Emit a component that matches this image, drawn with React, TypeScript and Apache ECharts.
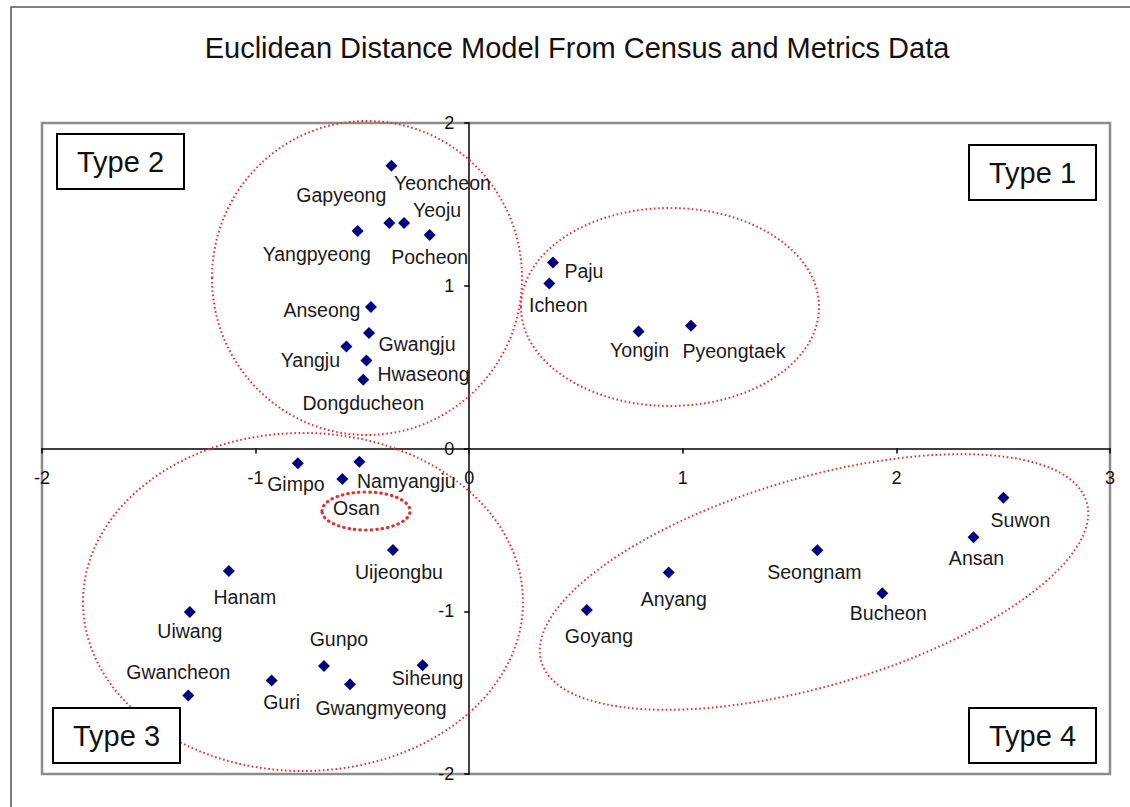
import React, { useEffect, useRef } from "react";
import * as echarts from "echarts";

// ---- data ----
const cities = [
  "Yeoncheon", "Gapyeong", "Yeoju", "Yangpyeong", "Pocheon", "Anseong", "Gwangju", "Yangju",
  "Hwaseong", "Dongducheon", "Paju", "Icheon", "Yongin", "Pyeongtaek", "Gimpo", "Osan",
  "Namyangju", "Uijeongbu", "Hanam", "Uiwang", "Gwancheon", "Guri", "Gunpo", "Gwangmyeong",
  "Siheung", "Goyang", "Anyang", "Seongnam", "Bucheon", "Ansan", "Suwon",
];
const dimension1 = [
  -0.364, -0.374, -0.305, -0.522, -0.185, -0.46, -0.469, -0.575,
  -0.481, -0.496, 0.392, 0.375, 0.793, 1.038, -0.802, -0.514,
  -0.594, -0.357, -1.125, -1.308, -1.315, -0.925, -0.68, -0.558,
  -0.218, 0.551, 0.934, 1.63, 1.934, 2.361, 2.501,
];
const dimension2 = [
  1.737, 1.386, 1.386, 1.337, 1.312, 0.869, 0.709, 0.626,
  0.54, 0.423, 1.143, 1.014, 0.719, 0.754, -0.091, -0.081,
  -0.188, -0.623, -0.752, -1.004, -1.517, -1.425, -1.337, -1.449,
  -1.332, -0.992, -0.762, -0.625, -0.889, -0.546, -0.303,
];
const xRange = [-2, 3];
const yRange = [-2, 2];
const typeNames = ["Type 1", "Type 2", "Type 3", "Type 4"];
const chartTitle = "Euclidean Distance Model From Census and Metrics Data";

// ---- layout (label placement relative to each marker, in px) ----
const labelOffsets: Record<string, [number, number]> = {
  Yeoncheon: [51, 17], Gapyeong: [-48, -28], Yeoju: [33, -13], Yangpyeong: [-41, 23],
  Pocheon: [0, 22], Anseong: [-49, 3], Gwangju: [48, 11], Yangju: [-36, 13],
  Hwaseong: [57, 13], Dongducheon: [0, 23], Paju: [31, 9], Icheon: [9, 22],
  Yongin: [1, 19], Pyeongtaek: [43, 25], Gimpo: [-2, 21], Osan: [-3, 46],
  Namyangju: [64, 2], Uijeongbu: [6, 22], Hanam: [16, 26], Uiwang: [0, 19],
  Gwancheon: [-10, -23], Guri: [10, 22], Gunpo: [15, -27], Gwangmyeong: [31, 24],
  Siheung: [5, 13], Goyang: [12, 26], Anyang: [5, 26], Seongnam: [-3, 22],
  Bucheon: [6, 20], Ansan: [3, 21], Suwon: [17, 22],
};

const FONT = "'Liberation Sans', Arial, sans-serif";
const RED = "#e03434";
const GRID = { left: 42, right: 20, top: 123, bottom: 33 };

export default function App() {
  const ref = useRef<HTMLDivElement>(null);

  useEffect(() => {
    if (!ref.current) return;
    const chart = echarts.init(ref.current, undefined, { renderer: "svg" });
    const W = 1130;
    const H = 807;
    const plotW = W - GRID.left - GRID.right;
    const plotH = H - GRID.top - GRID.bottom;
    // distance from grid bottom / left edge to the zero lines, so axes cross at the origin
    const xAxisShift = -plotH * ((0 - yRange[0]) / (yRange[1] - yRange[0]));
    const yAxisShift = -plotW * ((0 - xRange[0]) / (xRange[1] - xRange[0]));

    const data = cities.map((name, i) => ({
      name,
      value: [dimension1[i], dimension2[i]],
    }));

    const ellipse = (cx: number, cy: number, rx: number, ry: number, rot: number, lw: number, dash: number[], cap: string) => ({
      type: "ellipse",
      x: cx,
      y: cy,
      rotation: rot,
      silent: true,
      z: 1,
      shape: { cx: 0, cy: 0, rx, ry },
      style: { fill: "none", stroke: RED, lineWidth: lw, lineDash: dash, lineCap: cap },
    });

    const boxPos: Record<string, [number, number]> = {
      "Type 1": [969, 145],
      "Type 2": [57, 134],
      "Type 3": [53, 708],
      "Type 4": [969, 708],
    };
    const typeBoxes = typeNames.map((t) => ({
      type: "group",
      x: boxPos[t][0],
      y: boxPos[t][1],
      z: 10,
      children: [
        {
          type: "rect",
          shape: { x: 0, y: 0, width: 127, height: 55 },
          style: { fill: "#fff", stroke: "#000", lineWidth: 2 },
          z: 10,
        },
        {
          type: "text",
          x: 63.5,
          y: 28,
          z: 11,
          style: {
            text: t,
            fontSize: 29,
            fontFamily: FONT,
            fill: "#111",
            textAlign: "center",
            textVerticalAlign: "middle",
          },
        },
      ],
    }));

    chart.setOption({
      animation: false,
      backgroundColor: "#fff",
      grid: {
        ...GRID,
        show: true,
        borderColor: "#8c8c8c",
        borderWidth: 2.5,
        backgroundColor: "#fff",
      },
      xAxis: {
        type: "value",
        min: xRange[0],
        max: xRange[1],
        interval: 1,
        position: "bottom",
        offset: xAxisShift,
        axisLine: { onZero: false, lineStyle: { color: "#000", width: 1.5 } },
        axisTick: { show: true, length: 5, lineStyle: { color: "#000", width: 1.5 } },
        axisLabel: { margin: 20, fontSize: 18, color: "#111", fontFamily: FONT },
        splitLine: { show: false },
      },
      yAxis: {
        type: "value",
        min: yRange[0],
        max: yRange[1],
        interval: 1,
        position: "left",
        offset: yAxisShift,
        axisLine: { onZero: false, lineStyle: { color: "#000", width: 1.5 } },
        axisTick: { show: true, length: 5, lineStyle: { color: "#000", width: 1.5 } },
        axisLabel: { margin: 15, fontSize: 18, color: "#111", fontFamily: FONT },
        splitLine: { show: false },
      },
      series: [
        {
          type: "scatter",
          symbol: "diamond",
          symbolSize: 12,
          itemStyle: { color: "#000080", opacity: 1 },
          z: 3,
          label: {
            show: true,
            position: "inside",
            formatter: "{b}",
            fontSize: 19.5,
            fontFamily: FONT,
            color: "#1a1a1a",
            opacity: 1,
            textBorderWidth: 0,
            textBorderColor: "transparent",
            align: "center",
            verticalAlign: "middle",
          },
          labelLayout: (params: any) => {
            const off = labelOffsets[cities[params.dataIndex]] || [0, 20];
            return { dx: off[0], dy: off[1], hideOverlap: false };
          },
          data,
        },
      ],
      graphic: [
        {
          type: "rect",
          silent: true,
          z: 0,
          shape: { x: 11, y: 7, width: 1200, height: 900 },
          style: { fill: "none", stroke: "#555", lineWidth: 1.5 },
        },
        {
          type: "text",
          x: 577,
          y: 48,
          z: 5,
          style: {
            text: chartTitle,
            fontSize: 29,
            fontFamily: FONT,
            fill: "#111",
            textAlign: "center",
            textVerticalAlign: "middle",
          },
        },
        ellipse(367, 278, 155, 157, 0, 2, [1.6, 2.6], "butt"),
        ellipse(670, 307, 149, 99, 0, 2, [1.6, 2.6], "butt"),
        ellipse(303, 602, 220, 169, 0, 2, [1.6, 2.6], "butt"),
        ellipse(814, 582, 284, 104, 0.2845, 2, [1.6, 2.6], "butt"),
        ellipse(366, 511, 44, 19, 0, 3.2, [0.5, 5], "round"),
        ...typeBoxes,
      ],
    } as any);

    return () => chart.dispose();
  }, []);

  return (
    <div
      ref={ref}
      style={{ position: "absolute", left: 0, top: 0, width: 1130, height: 807 }}
    />
  );
}
